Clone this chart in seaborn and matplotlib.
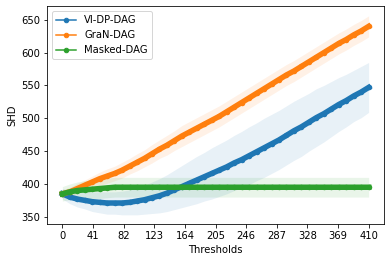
import numpy as np
import pandas as pd
import matplotlib
matplotlib.use("Agg")
import matplotlib.pyplot as plt
from matplotlib.lines import Line2D
import seaborn as sns

thresholds = list(range(0, 411, 10))
methods = ["VI-DP-DAG", "GraN-DAG", "Masked-DAG"]
colors = ["#1f77b4", "#ff7f0e", "#2ca02c"]

vi_mean = [385, 380, 377, 375, 373, 372, 371, 371, 371, 372, 374, 376, 379, 382,
           386, 391, 396, 401, 406, 411, 416, 421, 426, 432, 437, 443, 449, 455,
           461, 467, 474, 481, 487, 494, 501, 507, 514, 521, 527, 534, 540, 547]
vi_std = [8, 10, 12, 13, 15, 16, 17, 17, 18, 19, 21, 22, 24, 26, 28, 30, 32, 34,
          36, 37, 39, 40, 41, 42, 43, 44, 44, 45, 45, 45, 45, 45, 45, 44, 44, 43,
          42, 41, 40, 39, 39, 38]

gran_mean = [385, 388, 393, 398, 403, 408, 412, 416, 421, 427, 433, 439, 446, 453,
             459, 466, 473, 479, 485, 491, 497, 503, 510, 517, 524, 531, 538, 545,
             552, 559, 566, 572, 579, 586, 593, 600, 607, 614, 620, 627, 633, 640]
gran_std = [6, 7, 8, 8, 9, 10, 11, 11, 12, 12, 13, 13, 14, 14, 15, 15, 16, 16, 16,
            16, 16, 16, 16, 16, 16, 16, 16, 16, 16, 16, 16, 16, 16, 16, 16, 16, 16,
            16, 16, 16, 16, 16]

masked_mean = [385, 388, 390, 391, 392, 393, 394, 395, 395, 395, 395, 395, 395, 395,
               395, 395, 395, 395, 395, 395, 395, 395, 395, 395, 395, 395, 395, 395,
               395, 395, 395, 395, 395, 395, 395, 395, 395, 395, 395, 395, 395, 395]
masked_std = [11, 12, 13, 14, 14, 15, 15, 15, 15, 15, 15, 15, 15, 15, 15, 15, 15,
              15, 15, 15, 15, 15, 15, 15, 15, 15, 15, 15, 15, 15, 15, 15, 15, 15,
              15, 15, 15, 15, 15, 15, 15, 15]

xticks = [0, 41, 82, 123, 164, 205, 246, 287, 328, 369, 410]

means = [vi_mean, gran_mean, masked_mean]
stds = [vi_std, gran_std, masked_std]

fig, ax = plt.subplots(figsize=(389 / 72, 262 / 72), dpi=72)
fig.subplots_adjust(left=0.121, right=0.987, top=0.977, bottom=0.145)

handles = []
for name, c, m, s in zip(methods, colors, means, stds):
    df = pd.DataFrame({"Thresholds": thresholds, "SHD": m})
    sns.lineplot(data=df, x="Thresholds", y="SHD", ax=ax, color=c,
                 marker="o", markersize=5.5, markeredgewidth=0, linewidth=5.5,
                 legend=False)
    lo = np.array(m) - np.array(s)
    hi = np.array(m) + np.array(s)
    ax.fill_between(thresholds, lo, hi, color=c, alpha=0.1, linewidth=0)
    handles.append(Line2D([0], [0], color=c, marker="o", markersize=4.5, lw=1.5))

ax.set_xticks(xticks)
ax.set_ylim(339, 671)
ax.set_xlabel("Thresholds")
ax.set_ylabel("SHD")
ax.legend(handles, methods, loc="upper left")

fig.savefig("out.png", dpi=72)
